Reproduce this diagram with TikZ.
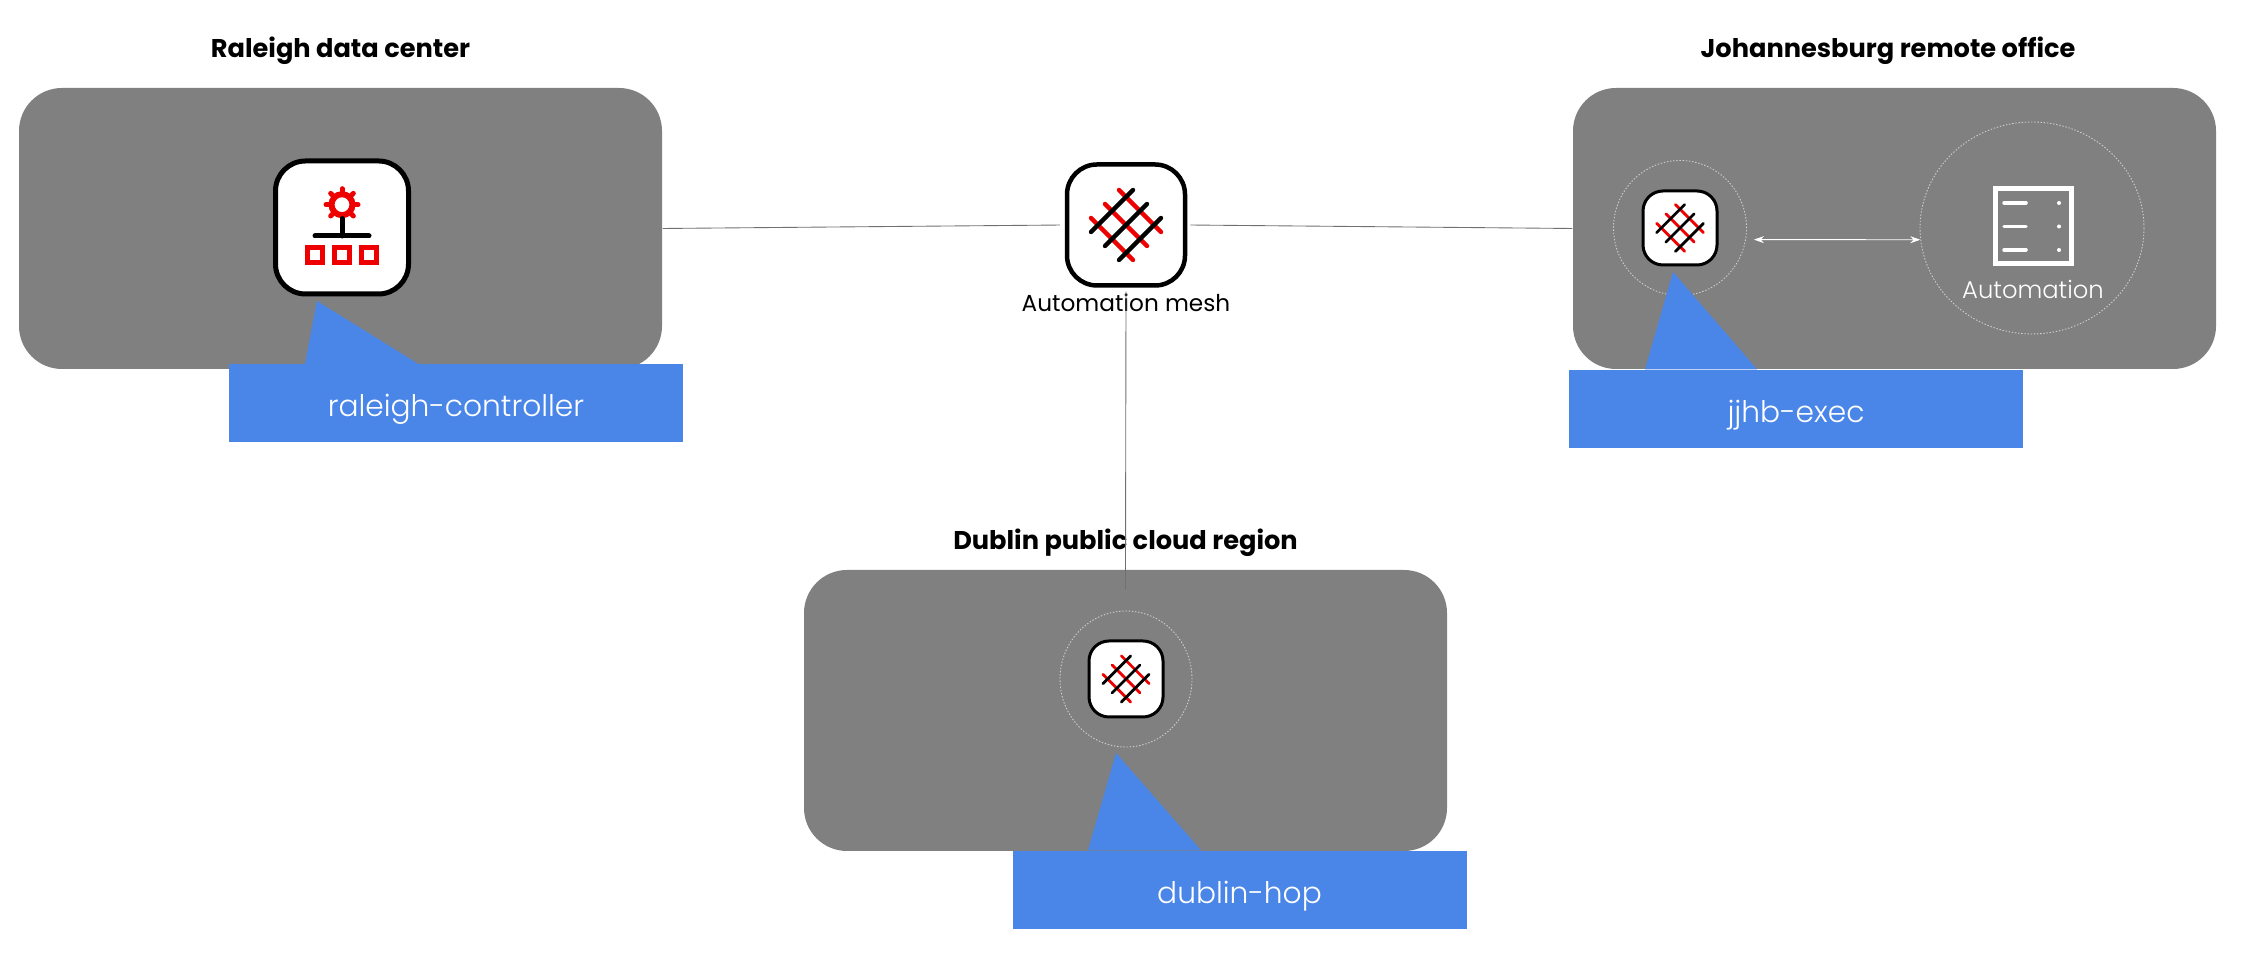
\documentclass[tikz,border=0pt]{standalone}
\usepackage{fontspec}
\setmainfont{Poppins}
\newfontfamily\lightfont{Poppins Light}
\usetikzlibrary{arrows.meta, positioning, shapes.geometric}

\definecolor{regiongray}{HTML}{808080}
\definecolor{calloutblue}{HTML}{4A86E8}
\definecolor{ringgray}{HTML}{D0D0D0}
\definecolor{linkgray}{HTML}{707070}
\definecolor{meshred}{HTML}{EE0000}

\tikzset{
    pics/meshicon/.style 2 args = {code = {
        \foreach \i in {-1,0,1} {
            \draw[meshred, line width=#1, line cap=round] ({(\i*0.14-0.21)*#2},{(\i*0.14+0.21)*#2}) -- ++({0.42*#2},{-0.42*#2});
        }
        \foreach \i in {-1,0,1} {
            \draw[black, line width=#1, line cap=round] ({(\i*0.14-0.21)*#2},{(-\i*0.14-0.21)*#2}) -- ++({0.42*#2},{0.42*#2});
        }
    }},
}

\begin{document}
\begin{tikzpicture}[
    >={Stealth[length=1mm, width=0.7mm]},
    region/.style    = {fill=regiongray, rounded corners=0.43cm, minimum width=6.43cm, minimum height=2.81cm, inner sep=0pt},
    title/.style     = {font=\fontsize{7.3}{9}\selectfont\bfseries},
    callout/.style   = {fill=calloutblue, text=white, minimum width=4.54cm, minimum height=0.78cm, inner sep=0pt, text height=0.3cm, text depth=0.03cm, font=\lightfont\fontsize{8.45}{10}\selectfont},
    iconbox/.style   = {draw=black, fill=white, line width=0.045cm, rounded corners=0.3cm, inner sep=0pt},
    smallbox/.style  = {iconbox, line width=0.03cm, rounded corners=0.2cm},
    ring/.style      = {ellipse, draw=ringgray, line width=0.25pt, dash pattern=on 0.4pt off 0.5pt, inner sep=0pt},
    link/.style      = {draw=linkgray, line width=0.25pt},
]
    \useasboundingbox (0,0) rectangle (22.49,9.59);

    \node[region] (raleigh) at (3.405,7.305) {};
    \node[region] (johannesburg) at (18.945,7.305) {};
    \node[region] (dublin) at (11.255,2.485) {};

    \node[title, above=0.1cm of raleigh] (raleightitle) {Raleigh data center};
    \node[title, above=0.1cm of johannesburg, xshift=-0.065cm] (johannesburgtitle) {Johannesburg remote office};
    \node[title, above=0cm of dublin] (dublintitle) {Dublin public cloud region};

    % mesh in the middle
    \node[iconbox, minimum width=1.18cm, minimum height=1.21cm] (meshbox) at (11.26,7.34) {};
    \pic at (meshbox.center) {meshicon={1.25pt}{1}};
    \node[below=-0.06cm of meshbox, font=\fontsize{6.6}{8}\selectfont] (meshlabel) {Automation mesh};

    \draw[link, shorten >=0.05cm] (raleigh.east) -- (meshbox.west);
    \draw[link, shorten <=0.03cm] (meshbox.east) -- (johannesburg.west);
    \draw[link, shorten <=0.04cm, shorten >=-0.2cm] (meshbox.south) -- (dublin.north);

    % raleigh controller
    \node[iconbox, line width=0.05cm, minimum size=1.33cm] (controllerbox) at (3.42,7.315) {};
    \begin{scope}[shift={(controllerbox.center)}]
        \draw[meshred, line width=0.06cm] (0,0.228) circle (0.105);
        \foreach \a in {0,45,...,315} {
            \draw[meshred, line width=0.05cm, line cap=round] (0,0.228) ++(\a:0.13) -- ++(\a:0.03);
        }
        \draw[black, line width=0.05cm, line cap=round] (0,0.09) -- (0,-0.085) (-0.27,-0.085) -- (0.27,-0.085);
        \foreach \x in {-0.27,0,0.27} {
            \draw[meshred, line width=0.055cm] (\x-0.075,-0.35) rectangle (\x+0.075,-0.2);
        }
    \end{scope}

    % johannesburg hop
    \node[ring, minimum width=1.33cm, minimum height=1.35cm] (jjhbring) at (16.8,7.31) {};
    \node[smallbox, minimum width=0.74cm, minimum height=0.74cm] (jjhbbox) at (jjhbring.center) {};
    \pic at (jjhbbox.center) {meshicon={0.8pt}{0.67}};

    \node[ring, minimum width=2.24cm, minimum height=2.12cm] (autoring) at (20.32,7.31) {};
    \node[draw=white, line width=0.05cm, minimum width=0.76cm, minimum height=0.75cm, inner sep=0pt] (server) at (20.33,7.325) {};
    \foreach \y in {-0.235,0,0.235} {
        \draw[white, line width=0.035cm, line cap=round] ([yshift=\y cm]server.center) ++(-0.29,0) -- ++(0.22,0);
        \fill[white] ([yshift=\y cm]server.center) ++(0.26,0) circle (0.02);
    }
    \node[below=0.01cm of server, text=white, font=\lightfont\fontsize{6.9}{8}\selectfont] (autolabel) {Automation};
    \draw[<->, white, line width=0.25pt, shorten <=0.08cm] (jjhbring.-10) -- (autoring.186);

    % dublin hop
    \node[ring, minimum width=1.32cm, minimum height=1.36cm] (dublinring) at (11.26,2.8) {};
    \node[smallbox, minimum width=0.74cm, minimum height=0.76cm] (dublinbox) at (dublinring.center) {};
    \pic at (dublinbox.center) {meshicon={0.8pt}{0.66}};

    % callouts
    \node[callout] (raleighcallout) at (4.56,5.555) {raleigh-controller};
    \node[callout] (jjhbcallout) at (17.96,5.5) {jjhb-exec};
    \node[callout] (dublincallout) at (12.395,0.69) {dublin-hop};

    \coordinate (raleightip) at (3.17,6.58);
    \coordinate (jjhbtip) at (16.73,6.87);
    \coordinate (dublintip) at (11.16,2.06);
    \fill[calloutblue] (raleightip) -- (3.05,0 |- raleighcallout.north) -- (4.18,0 |- raleighcallout.north) -- cycle;
    \fill[calloutblue] (jjhbtip) -- (16.45,0 |- jjhbcallout.north) -- (17.57,0 |- jjhbcallout.north) -- cycle;
    \fill[calloutblue] (dublintip) -- (10.88,0 |- dublincallout.north) -- (12.01,0 |- dublincallout.north) -- cycle;
\end{tikzpicture}
\end{document}
